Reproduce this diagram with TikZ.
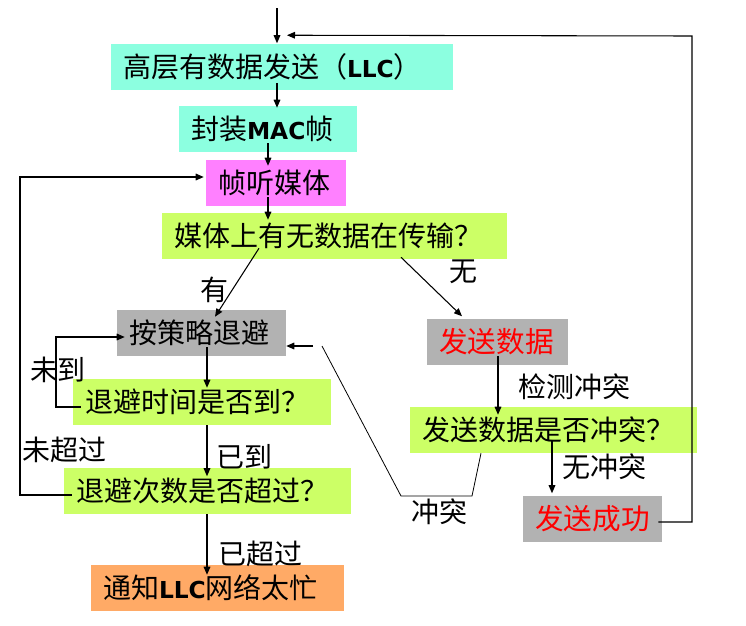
\documentclass[tikz,border=0pt]{standalone}
\usepackage{fontspec}
\newfontfamily\cjk{Noto Sans CJK SC}
\newfontfamily\lat{DejaVu Sans}
\usetikzlibrary{arrows.meta,calc}
\definecolor{cAqua}{RGB}{140,255,224}
\definecolor{cMag}{RGB}{255,128,255}
\definecolor{cLime}{RGB}{204,255,102}
\definecolor{cGray}{RGB}{178,178,178}
\definecolor{cOrange}{RGB}{255,170,102}
\definecolor{cRed}{RGB}{255,0,0}
\newcommand{\LT}[1]{{\lat\bfseries\fontsize{17.5}{24}\selectfont #1}}
\begin{document}
\begin{tikzpicture}[x=0.75pt,y=-0.75pt,
  every node/.style={font=\cjk\fontsize{21}{24}\selectfont},
  bx/.style={rectangle, inner xsep=9pt, inner ysep=0pt, minimum height=34.5pt, align=left},
  redtxt/.style={text=cRed, font=\cjk\fontsize{21.5}{24}\selectfont},
  lbl/.style={inner sep=0pt},
  arr/.style={draw=black, line width=0.8pt, -{Triangle[length=6pt,width=5pt]}},
  thin/.style={draw=black, line width=0.6pt}]
\useasboundingbox (0,0) rectangle (746,625);

% boxes
\node[bx, fill=cAqua, text width=238.5pt] (hl) at (282,66.5) {高层有数据发送（\LT{LLC}）};
\node[bx, fill=cAqua, text width=115.5pt] (fz) at (268,129) {封装\LT{MAC}帧};
\node[bx, fill=cMag, text width=87pt] (zt) at (276,183) {帧听媒体};
\node[bx, fill=cLime, text width=240.75pt] (mt) at (334.5,236) {媒体上有无数据在传输？};
\node[bx, fill=cGray, text width=108.75pt] (by) at (201.5,333) {按策略退避};
\node[bx, fill=cLime, text width=175.5pt] (sj) at (202,402) {退避时间是否到？};
\node[bx, fill=cLime, text width=197.25pt] (cs) at (207.5,490.5) {退避次数是否超过？};
\node[bx, fill=cOrange, text width=171.75pt] (tz) at (217.5,588) {通知\LT{LLC}网络太忙};
\node[bx, fill=cGray, text width=87.75pt, redtxt] (fs) at (497.5,341.5) {发送数据};
\node[bx, fill=cLime, text width=197.25pt] (ct) at (553.5,430) {发送数据是否冲突？};
\node[bx, fill=cGray, text width=86.25pt, redtxt] (cg) at (592.5,518.5) {发送成功};

% labels
\node[lbl] (lyou) at (214,290) {有};
\node[lbl] (lwu) at (463,272) {无};
\node[lbl] (lwd) at (58,370) {未到};
\node[lbl] (lyd) at (244,457) {已到};
\node[lbl] (lwcg) at (64,450) {未超过};
\node[lbl] (lycg) at (260,554) {已超过};
\node[lbl] (ljc) at (574,387) {检测冲突};
\node[lbl] (lwct) at (604,467) {无冲突};
\node[lbl] (lct) at (439,512) {冲突};

% connectors
\coordinate (start) at (277,8);
\draw[arr] (start) -- (start |- hl.north);
\draw[arr] ($(hl.south -| 277,0)+(0,-7)$) -- ($(fz.north -| 277,0)+(0,2)$);
\draw[arr] ($(fz.south -| 268,0)+(0,-9)$) -- ($(zt.north -| 268,0)+(0,6)$);
\draw[arr] ($(zt.south -| 268,0)+(0,-9)$) -- ($(mt.north -| 268,0)+(0,7)$);
\draw[arr] ($(mt.south -| 259,0)+(0,-11)$) -- ($(by.north -| 215,0)+(0,7)$);
\draw[arr] ($(mt.south -| 401,0)+(0,-2)$) -- ($(fs.north -| 462,0)+(0,-2)$);
\draw[arr] ($(by.south -| 207,0)+(0,-9)$) -- ($(sj.north -| 207,0)+(0,9)$);
\draw[arr] ($(sj.south -| 207,0)$) -- ($(cs.north -| 207,0)+(0,9)$);
\draw[arr] ($(cs.south -| 207,0)$) -- ($(tz.north -| 207,0)+(0,10)$);
\draw[arr] ($(fs.south -| 498,0)+(0,-9)$) -- ($(ct.north -| 498,0)+(0,8)$);
\draw[arr] ($(ct.south -| 552,0)+(0,-13)$) -- ($(cg.north -| 552,0)+(0,-2)$);
% loops
\draw[arr] ($(sj.west)+(8,5)$) -- (56,407) -- (56,337) -- ($(by.west)+(8,4)$);
\draw[arr] ($(cs.west)+(8,4.5)$) -- (20,495) -- (20,177) -- ($(zt.west)+(-2,-6)$);
\draw[arr] ($(cg.east)+(-4,3.5)$) -- (692,522) -- (692,36) -- ($(hl.north)+(5,-8)$);
% collision path
\draw[thin] ($(ct.south -| 481,0)$) -- (472,496) -- (401,496) -- (322,346);
\coordinate (cb) at (313,346);
\draw[arr] (cb) -- (cb -| by.east);
\end{tikzpicture}
\end{document}
